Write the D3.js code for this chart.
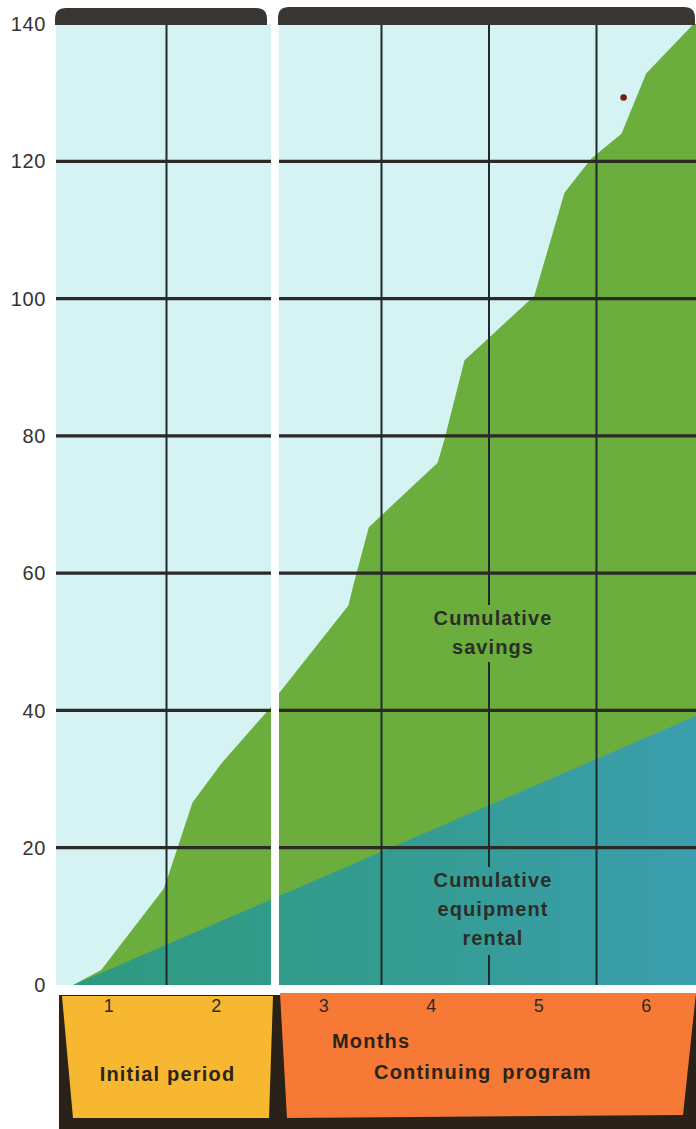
<!DOCTYPE html>
<html><head><meta charset="utf-8">
<script src="https://cdn.jsdelivr.net/npm/d3@7"></script>
<style>
html,body{margin:0;padding:0;background:#fff;}
svg{display:block;}
text{font-family:"Liberation Sans",Arial,Helvetica,sans-serif;}
</style></head>
<body>
<svg id="chart" width="696" height="1129"></svg>
<script>
// ---------- data ----------
const savingsMonths = [0.66, 0.92, 1.50, 1.54, 1.77, 2.04, 2.50, 2.574, 3.22, 3.27, 3.41, 4.05, 4.11, 4.30, 4.48, 4.95, 5.23, 5.48, 5.76, 5.99, 6.43, 6.5];
const savingsValues = [0, 2.2, 14, 15.7, 26.6, 32.3, 40.5, 42.5, 55.3, 58.5, 66.7, 76.1, 79.3, 91, 93.6, 100.4, 115.4, 120.4, 124, 132.8, 140, 140];
const rentalMonths = [0.66, 6.5];
const rentalValues = [0, 39.5];
const monthTicks = [1, 2, 3, 4, 5, 6];
const valueTicks = [0, 20, 40, 60, 80, 100, 120, 140];
const gridValues = [20, 40, 60, 80, 100, 120];
const gridMonths = [1.5, 3.5, 4.5, 5.5];
const periodNames = ["Initial period", "Continuing program"];
const periodStarts = [0.5, 2.5];
const periodEnds = [2.5, 6.5];
const strayDot = [5.78, 129.3];

// ---------- setup ----------
const W = 696, H = 1129;
const svg = d3.select("#chart");
const x = d3.scaleLinear().domain([0.5, 6.5]).range([56, 701]);
const y = d3.scaleLinear().domain([0, 140]).range([985, 24]);
const GAP = 8;

const panels = periodStarts.map((s, i) => ({
  x0: i === 0 ? x(s) : x(s) + GAP,
  x1: Math.min(W, x(periodEnds[i]))
}));

const defs = svg.append("defs");
const grad = defs.append("linearGradient").attr("id", "teal")
  .attr("gradientUnits", "userSpaceOnUse")
  .attr("x1", x(0.5)).attr("x2", W).attr("y1", 0).attr("y2", 0);
grad.append("stop").attr("offset", "0%").attr("stop-color", "#2e9a7e");
grad.append("stop").attr("offset", "55%").attr("stop-color", "#349c92");
grad.append("stop").attr("offset", "100%").attr("stop-color", "#3b9eae");

panels.forEach((p, i) => {
  defs.append("clipPath").attr("id", "clip" + i)
    .append("rect").attr("x", p.x0).attr("y", y(140)).attr("width", p.x1 - p.x0).attr("height", y(0) - y(140));
});

const savings = savingsMonths.map((m, i) => ({m, v: savingsValues[i]}));
const rental = rentalMonths.map((m, i) => ({m, v: rentalValues[i]}));
const area = d3.area().x(d => x(d.m)).y0(y(0)).y1(d => y(d.v));

// ---------- panels ----------
panels.forEach((p, i) => {
  const g = svg.append("g").attr("clip-path", `url(#clip${i})`);
  g.append("rect").attr("x", p.x0).attr("y", y(140)).attr("width", p.x1 - p.x0)
    .attr("height", y(0) - y(140)).attr("fill", "#d6f3f3");
  g.append("path").datum(savings).attr("d", area).attr("fill", "#6bae3d");
  g.append("path").datum(rental).attr("d", area).attr("fill", "url(#teal)");
  g.selectAll("line.h").data(gridValues).join("line").attr("class", "h")
    .attr("x1", p.x0).attr("x2", p.x1).attr("y1", d => y(d)).attr("y2", d => y(d))
    .attr("stroke", "#2b2826").attr("stroke-width", 3.2);
});

// ---------- labels inside chart ----------
const labelStyle = s => s.attr("text-anchor", "middle").attr("font-weight", "bold")
  .attr("font-size", 20).attr("letter-spacing", 1.1).attr("fill", "#2a2e27");
const lab1 = svg.append("g");
["Cumulative", "savings"].forEach((t, i) =>
  lab1.append("text").attr("x", x(4.5) + 7).attr("y", 625 + i * 29).text(t).call(labelStyle));
const lab2 = svg.append("g");
["Cumulative", "equipment", "rental"].forEach((t, i) =>
  lab2.append("text").attr("x", x(4.5) + 7).attr("y", 887 + i * 29).text(t).call(labelStyle));
const b1 = lab1.node().getBBox(), b2 = lab2.node().getBBox();

// ---------- vertical grid ----------
gridMonths.forEach(m => {
  const xx = x(m) + 3;
  let segs = [[y(140), y(0)]];
  if (m === 4.5) segs = [[y(140), b1.y - 2], [b1.y + b1.height + 4, b2.y - 2], [b2.y + b2.height + 6, y(0)]];
  segs.forEach(s => svg.append("line").attr("x1", xx).attr("x2", xx).attr("y1", s[0]).attr("y2", s[1])
    .attr("stroke", "#1e2a2e").attr("stroke-width", 2));
});

// stray dot
svg.append("circle").attr("cx", x(strayDot[0])).attr("cy", y(strayDot[1])).attr("r", 3.3).attr("fill", "#7e1a10");

// ---------- top bars ----------
panels.forEach((p, i) => {
  const x0 = p.x0 - 1, x1 = i === 0 ? p.x1 - 4 : W - 1, t = i === 0 ? 8 : 7, b = y(140) + 1, r = 11;
  svg.append("path")
    .attr("d", `M${x0},${b} L${x0},${t + r} Q${x0},${t} ${x0 + r},${t} L${x1 - r},${t} Q${x1},${t} ${x1},${t + r} L${x1},${b} Z`)
    .attr("fill", "#3a3634");
});

// ---------- y axis labels ----------
svg.selectAll("text.yl").data(valueTicks).join("text").attr("class", "yl")
  .attr("x", 46).attr("y", d => y(d)).attr("dy", "0.36em").attr("text-anchor", "end")
  .attr("font-size", 20).attr("letter-spacing", 0.6).attr("fill", "#333")
  .text(d => d);

// ---------- bottom band ----------
const bandTop = 995, bandBot = 1118;
svg.append("rect").attr("x", x(0.5) + 3).attr("y", bandTop).attr("width", W - x(0.5) - 3).attr("height", H - bandTop)
  .attr("fill", "#2a2118");
const bandColors = ["#f8b731", "#f67a36"];
periodStarts.forEach((s, i) => {
  const e = periodEnds[i];
  let pts;
  if (i === 0) pts = [[x(s) + 6, bandTop + 1], [x(e) + 2, bandTop + 1], [x(e) - 2, bandBot], [x(s) + 17, bandBot]];
  else pts = [[x(s) + 9, bandTop - 2], [W, bandTop - 2], [W - 13, bandBot - 3], [x(s) + 16, bandBot]];
  svg.append("polygon").attr("points", pts.map(p => p.join(",")).join(" ")).attr("fill", bandColors[i]);
});

// month tick labels
svg.selectAll("text.ml").data(monthTicks).join("text").attr("class", "ml")
  .attr("x", d => x(d) - 1).attr("y", 1012).attr("text-anchor", "middle")
  .attr("font-size", 18).attr("fill", "#2d2a26").text(d => d);

const bandText = s => s.attr("font-weight", "bold").attr("font-size", 20).attr("letter-spacing", 1.2).attr("fill", "#2a2418");
svg.append("text").attr("x", (x(periodStarts[0]) + x(periodEnds[0])) / 2 + 4).attr("y", 1081)
  .attr("text-anchor", "middle").text(periodNames[0]).call(bandText);
svg.append("text").attr("x", 332).attr("y", 1048).text("Months").call(bandText);
svg.append("text").attr("x", 374).attr("y", 1079).attr("word-spacing", 4).text(periodNames[1]).call(bandText);
</script>
</body></html>
